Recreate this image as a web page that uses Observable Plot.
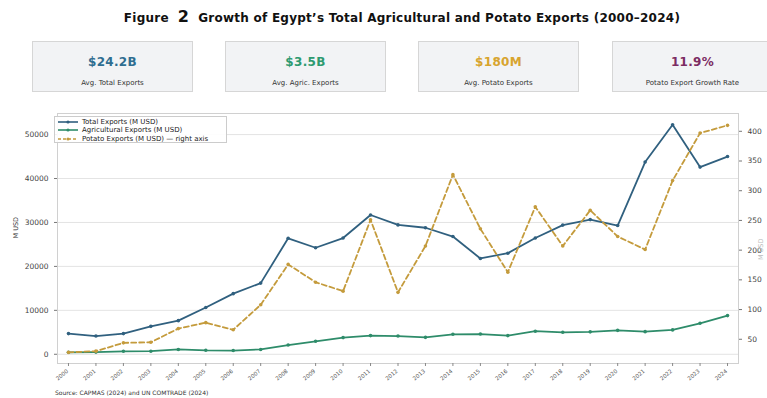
<!DOCTYPE html>
<html><head><meta charset="utf-8">
<script src="https://cdn.jsdelivr.net/npm/d3@7"></script>
<script src="https://cdn.jsdelivr.net/npm/@observablehq/plot@0.6"></script>
<style>
body{margin:0;width:767px;height:398px;overflow:hidden;background:#fff;font-family:"DejaVu Sans",sans-serif;position:relative}
#title{position:absolute;top:7px;left:0;width:804px;text-align:center;font-weight:bold;font-size:12px;letter-spacing:0.25px;color:#111;white-space:nowrap}
#title .num{font-size:16px;margin:0 9px}
.card{position:absolute;top:41px;height:51px;width:161px;background:#f2f3f5;border:1px solid #d6d6d6;box-sizing:border-box;text-align:center}
.card .v{position:absolute;left:0;right:0;top:13px;font-weight:bold;font-size:12px;letter-spacing:0.3px}
.card .l{position:absolute;left:0;right:0;top:37px;font-size:7px;color:#333}
#chart{position:absolute;left:0;top:100px}
#legend{position:absolute;left:54px;top:116px;width:173px;height:27px;border:1px solid #ccc;background:rgba(255,255,255,0.9);box-sizing:border-box;font-size:7px;color:#222}
#legend div{position:absolute;left:3px;height:8px;line-height:8px;white-space:nowrap}
#legend svg{vertical-align:middle;margin-right:4px}
#source{position:absolute;left:55px;top:389px;font-size:6px;color:#333}
</style></head>
<body>
<div id="title">Figure<span class="num">2</span>Growth of Egypt’s Total Agricultural and Potato Exports (2000–2024)</div>
<div id="cards"></div>
<div id="chart"></div>
<div id="legend"></div>
<div id="source">Source: CAPMAS (2024) and UN COMTRADE (2024)</div>
<script>
const years = [2000,2001,2002,2003,2004,2005,2006,2007,2008,2009,2010,2011,2012,2013,2014,2015,2016,2017,2018,2019,2020,2021,2022,2023,2024];
const totalExports = [4700,4150,4700,6350,7650,10650,13800,16200,26400,24250,26450,31700,29450,28800,26800,21800,23000,26450,29400,30650,29300,43750,52250,42600,45000];
const agricExports = [450,500,680,700,1100,900,850,1100,2100,2950,3800,4250,4150,3850,4550,4600,4250,5250,5000,5100,5450,5150,5550,7050,8800];
const potatoExports = [28,30,44,45,68,78,66,108,176,146,131,251,129,207,327,236,163,273,207,267,223,201,317,397,410];
const leftTicks = [0,10000,20000,30000,40000,50000];
const rightTicks = [50,100,150,200,250,300,350,400];
const kpiValues = ["$24.2B","$3.5B","$180M","11.9%"];
const kpiLabels = ["Avg. Total Exports","Avg. Agric. Exports","Avg. Potato Exports","Potato Export Growth Rate"];
const seriesNames = ["Total Exports (M USD)","Agricultural Exports (M USD)","Potato Exports (M USD) — right axis"];

const cTotal = "#30607f", cAgric = "#2e8c6a", cPotato = "#c49b3c";
const kpiColors = ["#2f6d90","#2e9a70","#d8a42e","#7c2b62"];
const cardLeft = [32,225,418,612];
const cards = document.getElementById("cards");
kpiValues.forEach((v,i)=>{
  const d=document.createElement("div");d.className="card";d.style.left=cardLeft[i]+"px";
  d.innerHTML=`<div class="v" style="color:${kpiColors[i]}">${v}</div><div class="l">${kpiLabels[i]}</div>`;
  cards.appendChild(d);
});
const lg=document.getElementById("legend");
[[cTotal,""],[cAgric,""],[cPotato,"3,2"]].forEach(([c,da],i)=>{
  const d=document.createElement("div");d.style.top=(1+i*8.3)+"px";
  d.innerHTML=`<svg width="20" height="6"><line x1="0" x2="20" y1="3" y2="3" stroke="${c}" stroke-width="1.6" stroke-dasharray="${da}"/><circle cx="10" cy="3" r="1.6" fill="${c}"/></svg>${seriesNames[i]}`;
  lg.appendChild(d);
});

// right-axis value -> left-axis units (twin axis alignment)
const toLeft = v => 135.25*v - 3350;
const fromLeft = L => Math.round((L+3350)/135.25);
const rows = years.map((y,i)=>({year:y,total:totalExports[i],agric:agricExports[i],potato:potatoExports[i]}));

const chart = Plot.plot({
  width:767,height:290,marginTop:13,marginBottom:27,marginLeft:57,marginRight:29,
  style:{fontFamily:"DejaVu Sans, sans-serif",background:"transparent",color:"#444"},
  x:{domain:[1999.6,2024.4],axis:null},
  y:{domain:[-2100,54800],axis:null},
  marks:[
    Plot.gridY(leftTicks,{stroke:"#dcdcdc",strokeOpacity:1,strokeWidth:0.8}),
    Plot.frame({stroke:"#d0d0d0"}),
    Plot.axisY(leftTicks,{anchor:"left",tickSize:3,fontSize:7.5,tickFormat:d=>String(d),label:null,stroke:"#777",fill:"#444"}),
    Plot.axisY(rightTicks.map(toLeft),{anchor:"right",tickSize:3,fontSize:7.5,tickFormat:d=>String(fromLeft(d)),label:null,stroke:"#777",fill:"#444"}),
    Plot.axisX(years,{anchor:"bottom",tickSize:3,tickFormat:()=>"",label:null,stroke:"#888"}),
    Plot.text(years,{x:d=>d,text:d=>String(d),frameAnchor:"bottom",dy:7,dx:-1,rotate:-40,textAnchor:"end",lineAnchor:"middle",fontSize:5.5,fill:"#555"}),
    Plot.text(["M USD"],{frameAnchor:"left",dx:-42,rotate:-90,fontSize:6.5,fill:"#333"}),
    Plot.text(["M USD"],{frameAnchor:"right",dx:22,rotate:-90,fontSize:6.5,fill:"#bbb"}),
    Plot.line(rows,{x:"year",y:"total",stroke:cTotal,strokeWidth:1.8}),
    Plot.dot(rows,{x:"year",y:"total",r:1.8,fill:cTotal}),
    Plot.line(rows,{x:"year",y:"agric",stroke:cAgric,strokeWidth:1.8}),
    Plot.dot(rows,{x:"year",y:"agric",r:1.8,fill:cAgric}),
    Plot.line(rows,{x:"year",y:d=>toLeft(d.potato),stroke:cPotato,strokeWidth:1.8,strokeDasharray:"5,3"}),
    Plot.dot(rows,{x:"year",y:d=>toLeft(d.potato),r:1.8,fill:cPotato})
  ]
});
document.getElementById("chart").appendChild(chart);
</script>
</body></html>
